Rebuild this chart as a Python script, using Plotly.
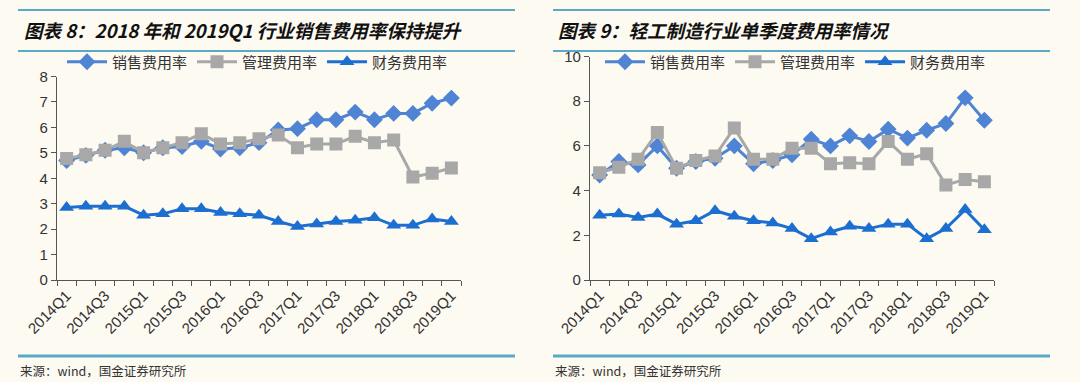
import plotly.graph_objects as go

quarters = ["2014Q1","2014Q2","2014Q3","2014Q4","2015Q1","2015Q2","2015Q3","2015Q4",
            "2016Q1","2016Q2","2016Q3","2016Q4","2017Q1","2017Q2","2017Q3","2017Q4",
            "2018Q1","2018Q2","2018Q3","2018Q4","2019Q1"]
series_names = ["销售费用率", "管理费用率", "财务费用率"]

sales8 = [4.7, 4.9, 5.1, 5.2, 5.0, 5.2, 5.25, 5.45, 5.15, 5.2, 5.4, 5.9, 5.95, 6.3, 6.3, 6.6, 6.3, 6.55, 6.55, 6.95, 7.15]
admin8 = [4.78, 4.92, 5.1, 5.45, 5.0, 5.2, 5.4, 5.75, 5.35, 5.4, 5.55, 5.7, 5.2, 5.35, 5.35, 5.65, 5.4, 5.5, 4.05, 4.2, 4.4]
fin8 = [2.85, 2.9, 2.9, 2.9, 2.55, 2.6, 2.8, 2.8, 2.65, 2.6, 2.55, 2.3, 2.1, 2.2, 2.3, 2.35, 2.45, 2.15, 2.15, 2.4, 2.3]

sales9 = [4.7, 5.3, 5.15, 6.0, 5.0, 5.3, 5.45, 6.0, 5.2, 5.35, 5.6, 6.3, 6.0, 6.45, 6.2, 6.75, 6.35, 6.7, 7.0, 8.15, 7.15]
admin9 = [4.8, 5.05, 5.4, 6.6, 5.0, 5.35, 5.55, 6.8, 5.4, 5.4, 5.9, 5.9, 5.2, 5.25, 5.2, 6.2, 5.4, 5.65, 4.25, 4.5, 4.4]
fin9 = [2.9, 2.95, 2.8, 2.95, 2.5, 2.65, 3.1, 2.85, 2.65, 2.55, 2.3, 1.85, 2.15, 2.4, 2.3, 2.5, 2.5, 1.85, 2.3, 3.15, 2.25]

title8 = "<b><i>图表 8：2018 年和 2019Q1 行业销售费用率保持提升</i></b>"
title9 = "<b><i>图表 9：轻工制造行业单季度费用率情况</i></b>"
source = "来源：wind，国金证券研究所"

W, H = 1080, 382
BG = "#FDFAF2"
RULE = "#5AA9C6"
colors = ["#4F83D4", "#A8A8A8", "#1C6FD0"]
symbols = ["diamond", "square", "triangle-up"]
msizes = [13, 13, 13]
FONT = "Liberation Sans, Arial, Noto Sans CJK SC, sans-serif"
CJK = "Noto Sans CJK SC, Liberation Sans, sans-serif"

xi = list(range(len(quarters)))
fig = go.Figure()

panels = [
    dict(data=[sales8, admin8, fin8], xa="x", ya="y", legend="legend"),
    dict(data=[sales9, admin9, fin9], xa="x2", ya="y2", legend="legend2"),
]
for p in panels:
    for i, vals in enumerate(p["data"]):
        fig.add_trace(go.Scatter(
            x=xi, y=vals, name=series_names[i], mode="lines+markers",
            line=dict(color=colors[i], width=3),
            marker=dict(symbol=symbols[i], size=msizes[i], color=colors[i]),
            xaxis=p["xa"], yaxis=p["ya"], legend=p["legend"],
        ))

def px_x(v):
    return v / W

def px_y(v):
    return 1 - v / H

label_vals = xi[::2]
label_text = quarters[::2]
xcommon = dict(
    range=[-0.5, len(quarters) - 0.5], tickvals=label_vals, ticktext=label_text,
    tickangle=-45, ticks="", showline=True, linecolor="#555555", linewidth=1.2,
    showgrid=False, zeroline=False, automargin=False,
    tickfont=dict(family=FONT, size=15, color="#333333"),
    minor=dict(tick0=-0.5, dtick=1, ticks="outside", ticklen=5, tickcolor="#555555", showgrid=False),
)
ycommon = dict(
    showline=True, linecolor="#555555", linewidth=1.2, ticks="outside", ticklen=5,
    tickcolor="#555555", showgrid=False, zeroline=False, automargin=False,
    tickfont=dict(family=FONT, size=15, color="#333333"),
)

fig.update_layout(
    width=W, height=H, paper_bgcolor=BG, plot_bgcolor=BG,
    margin=dict(l=0, r=0, t=0, b=0, autoexpand=False),
    xaxis=dict(domain=[px_x(57), px_x(461)], anchor="y", **xcommon),
    yaxis=dict(domain=[px_y(280), px_y(76.5)], anchor="x", range=[0, 8], dtick=1, **ycommon),
    xaxis2=dict(domain=[px_x(590), px_x(994)], anchor="y2", **xcommon),
    yaxis2=dict(domain=[px_y(280), px_y(56.5)], anchor="x2", range=[0, 10], dtick=2, **ycommon),
    legend=dict(orientation="h", x=px_x(62), y=px_y(62), xanchor="left", yanchor="middle",
                bgcolor="rgba(0,0,0,0)", font=dict(family=CJK, size=15, color="#333333"),
                itemwidth=40, tracegroupgap=0),
    legend2=dict(orientation="h", x=px_x(600), y=px_y(62), xanchor="left", yanchor="middle",
                 bgcolor="rgba(0,0,0,0)", font=dict(family=CJK, size=15, color="#333333"),
                 itemwidth=40, tracegroupgap=0),
    showlegend=True,
)

shapes = []
for (x0, x1) in [(18, 515), (553, 1050)]:
    shapes.append(dict(type="line", xref="paper", yref="paper", x0=px_x(x0), x1=px_x(x1),
                       y0=px_y(10), y1=px_y(10), line=dict(color=RULE, width=2)))
    shapes.append(dict(type="line", xref="paper", yref="paper", x0=px_x(x0), x1=px_x(x1),
                       y0=px_y(51), y1=px_y(51), line=dict(color=RULE, width=2)))
    shapes.append(dict(type="line", xref="paper", yref="paper", x0=px_x(x0), x1=px_x(x1),
                       y0=px_y(356), y1=px_y(356), line=dict(color=RULE, width=3)))
fig.update_layout(shapes=shapes)

annotations = [
    dict(text=title8, x=px_x(22), y=px_y(30), xref="paper", yref="paper", xanchor="left",
         yanchor="middle", showarrow=False, font=dict(family=CJK, size=18.5, color="#111111")),
    dict(text=title9, x=px_x(556), y=px_y(30), xref="paper", yref="paper", xanchor="left",
         yanchor="middle", showarrow=False, font=dict(family=CJK, size=18.5, color="#111111")),
    dict(text=source, x=px_x(18), y=px_y(370), xref="paper", yref="paper", xanchor="left",
         yanchor="middle", showarrow=False, font=dict(family=CJK, size=12.5, color="#333333")),
    dict(text=source, x=px_x(553), y=px_y(370), xref="paper", yref="paper", xanchor="left",
         yanchor="middle", showarrow=False, font=dict(family=CJK, size=12.5, color="#333333")),
]
fig.update_layout(annotations=annotations)

fig.write_html("out.html", config={"displayModeBar": False},
               post_script="document.body.style.margin='0';document.body.style.overflow='hidden';")
